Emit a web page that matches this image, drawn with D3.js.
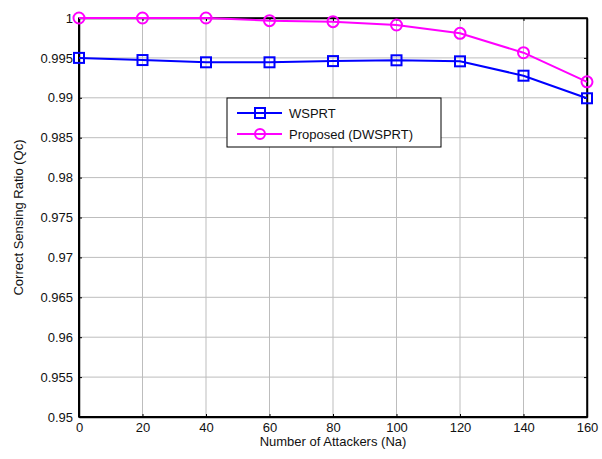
<!DOCTYPE html>
<html>
<head>
<meta charset="utf-8">
<script src="https://cdn.jsdelivr.net/npm/d3@7"></script>
<style>
  body { margin: 0; background: #fff; }
  svg { font-family: "Liberation Sans", Arial, sans-serif; }
</style>
</head>
<body>
<div id="svg-container"></div>
<script>
// data
const attackers = [0, 20, 40, 60, 80, 100, 120, 140, 160];
const wsprt = [0.995, 0.99473, 0.99445, 0.99445, 0.9946, 0.9947, 0.99457, 0.99277, 0.98994];
const dwsprt = [1, 1, 1, 0.99967, 0.99954, 0.99912, 0.99808, 0.99565, 0.992];
const yTicks = [0.95, 0.955, 0.96, 0.965, 0.97, 0.975, 0.98, 0.985, 0.99, 0.995, 1];
const seriesNames = ["WSPRT", "Proposed (DWSPRT)"];

const width = 602, height = 459;
const margin = { top: 18, right: 15, bottom: 42, left: 79 };

const svg = d3.select("#svg-container").append("svg")
  .attr("width", width).attr("height", height);

const xScale = d3.scaleLinear().domain([0, 160]).range([margin.left, width - margin.right]);
const yScale = d3.scaleLinear().domain([0.95, 1]).range([height - margin.bottom, margin.top]);

// grid
svg.append("g").selectAll("line").data(attackers.slice(1, -1)).join("line")
  .attr("x1", d => xScale(d)).attr("x2", d => xScale(d))
  .attr("y1", yScale(0.95)).attr("y2", yScale(1))
  .attr("stroke", "#bdbdbd").attr("stroke-width", 1);
svg.append("g").selectAll("line").data(yTicks.slice(1, -1)).join("line")
  .attr("y1", d => yScale(d)).attr("y2", d => yScale(d))
  .attr("x1", xScale(0)).attr("x2", xScale(160))
  .attr("stroke", "#bdbdbd").attr("stroke-width", 1);

// axes
const xAxis = d3.axisBottom(xScale).tickValues(attackers).tickSizeInner(-3).tickSizeOuter(0).tickPadding(6);
const yAxis = d3.axisLeft(yScale).tickValues(yTicks).tickFormat(d3.format("~g")).tickSizeInner(-3).tickSizeOuter(0).tickPadding(6);

svg.append("g").attr("transform", `translate(0,${yScale(0.95)})`).call(xAxis);
svg.append("g").attr("transform", `translate(${xScale(0)},0)`).call(yAxis);
// mirrored ticks on top / right
svg.append("g").attr("transform", `translate(0,${yScale(1)})`)
  .call(d3.axisTop(xScale).tickValues(attackers).tickSizeInner(-3).tickSizeOuter(0).tickFormat(""));
svg.append("g").attr("transform", `translate(${xScale(160)},0)`)
  .call(d3.axisRight(yScale).tickValues(yTicks).tickSizeInner(-3).tickSizeOuter(0).tickFormat(""));

svg.selectAll(".domain").attr("stroke", "#000").attr("stroke-width", 1.5);
svg.selectAll(".tick line").attr("stroke", "#000");
svg.selectAll(".tick text").attr("font-size", 13).attr("fill", "#111")
  .attr("font-family", "'Liberation Sans', Arial, sans-serif");

// frame
svg.append("rect")
  .attr("x", xScale(0)).attr("y", yScale(1))
  .attr("width", xScale(160) - xScale(0)).attr("height", yScale(0.95) - yScale(1))
  .attr("fill", "none").attr("stroke", "#000").attr("stroke-width", 1.5);
svg.append("line")
  .attr("x1", xScale(0)).attr("x2", xScale(0)).attr("y1", yScale(1)).attr("y2", yScale(0.95))
  .attr("stroke", "#000").attr("stroke-width", 2);
svg.append("line")
  .attr("x1", xScale(0)).attr("x2", xScale(160)).attr("y1", yScale(0.95)).attr("y2", yScale(0.95))
  .attr("stroke", "#000").attr("stroke-width", 2);

// axis labels
svg.append("text")
  .attr("x", (xScale(0) + xScale(160)) / 2).attr("y", height - 13)
  .attr("text-anchor", "middle").attr("font-size", 13).attr("fill", "#111")
  .text("Number of Attackers (Na)");
svg.append("text")
  .attr("transform", `translate(23,${(yScale(0.95) + yScale(1)) / 2}) rotate(-90)`)
  .attr("text-anchor", "middle").attr("font-size", 13).attr("fill", "#111")
  .text("Correct Sensing Ratio (Qc)");

// lines
const line = d3.line().x((d, i) => xScale(attackers[i])).y(d => yScale(d));

svg.append("path").datum(wsprt).attr("d", line)
  .attr("fill", "none").attr("stroke", "#0000ff").attr("stroke-width", 2);
svg.append("g").selectAll("rect").data(wsprt).join("rect")
  .attr("x", (d, i) => xScale(attackers[i]) - 5).attr("y", d => yScale(d) - 5)
  .attr("width", 10).attr("height", 10)
  .attr("fill", "none").attr("stroke", "#0000ff").attr("stroke-width", 2);

svg.append("path").datum(dwsprt).attr("d", line)
  .attr("fill", "none").attr("stroke", "#ff00ff").attr("stroke-width", 2);
svg.append("g").selectAll("circle").data(dwsprt).join("circle")
  .attr("cx", (d, i) => xScale(attackers[i])).attr("cy", d => yScale(d))
  .attr("r", 5.5)
  .attr("fill", "none").attr("stroke", "#ff00ff").attr("stroke-width", 2);

// legend
const legend = svg.append("g").attr("transform", "translate(227,98)");
legend.append("rect").attr("width", 214).attr("height", 49)
  .attr("fill", "#fff").attr("stroke", "#000").attr("stroke-width", 1);
const colors = ["#0000ff", "#ff00ff"];
seriesNames.forEach((name, i) => {
  const y = 15 + i * 21;
  legend.append("line").attr("x1", 10).attr("x2", 55).attr("y1", y).attr("y2", y)
    .attr("stroke", colors[i]).attr("stroke-width", 2);
  if (i === 0) {
    legend.append("rect").attr("x", 28).attr("y", y - 5).attr("width", 10).attr("height", 10)
      .attr("fill", "none").attr("stroke", colors[i]).attr("stroke-width", 2);
  } else {
    legend.append("circle").attr("cx", 33).attr("cy", y).attr("r", 5)
      .attr("fill", "none").attr("stroke", colors[i]).attr("stroke-width", 2);
  }
  legend.append("text").attr("x", 62).attr("y", y + 5)
    .attr("font-size", 13).attr("fill", "#111").text(name);
});
</script>
</body>
</html>
